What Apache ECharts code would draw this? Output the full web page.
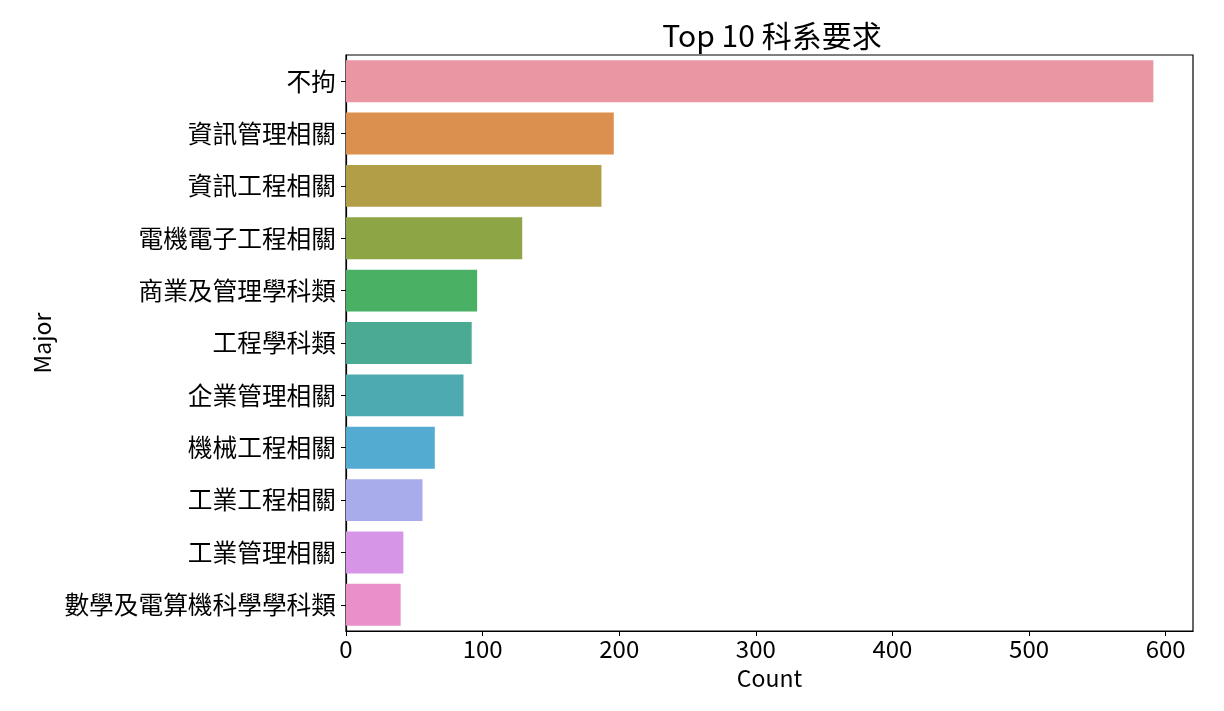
<!DOCTYPE html>
<html>
<head>
<meta charset="utf-8">
<script src="https://cdn.jsdelivr.net/npm/echarts@6/dist/echarts.min.js"></script>
<style>
html,body{margin:0;padding:0;background:#fff;}
#chart{width:1224px;height:711px;}
</style>
</head>
<body>
<div id="chart"></div>
<script>
const categories = ['不拘','資訊管理相關','資訊工程相關','電機電子工程相關','商業及管理學科類','工程學科類','企業管理相關','機械工程相關','工業工程相關','工業管理相關','數學及電算機科學學科類'];
const counts = [591, 196, 187, 129, 96, 92, 86, 65, 56, 42, 40];
const barColors = ['#EA96A3','#DC904F','#B39E48','#8EA546','#49B064','#4BAA92','#4DAAB0','#53ABD2','#A9ACEA','#D795E8','#E990C8'];
const xTicks = [0,100,200,300,400,500,600];

const FONT = '"Noto Sans CJK TC", "Noto Sans", sans-serif';
const chart = echarts.init(document.getElementById('chart'));
chart.setOption({
  animation: false,
  backgroundColor: '#fff',
  title: {
    text: 'Top 10 科系要求',
    left: 767, top: 16, textAlign: 'center',
    textStyle: {fontFamily: FONT, fontSize: 30, fontWeight: 'normal', color: '#000'}
  },
  grid: {left: 346, right: 31, top: 55, bottom: 80, show: true, borderColor: '#000', borderWidth: 1.2, backgroundColor: 'transparent'},
  xAxis: {
    type: 'value', min: 0, max: 620, interval: 100,
    name: 'Count', nameLocation: 'middle', nameGap: 36,
    nameTextStyle: {fontFamily: FONT, fontSize: 23, color: '#000'},
    axisLine: {show: true, lineStyle: {color: '#000', width: 1.2}},
    axisTick: {show: true, length: 5, lineStyle: {color: '#000'}, customValues: xTicks},
    axisLabel: {fontFamily: FONT, fontSize: 24, color: '#000', margin: 6, customValues: xTicks},
    splitLine: {show: false}
  },
  yAxis: {
    type: 'category', data: categories, inverse: true,
    name: 'Major', nameLocation: 'middle', nameGap: 292, nameRotate: 90,
    nameTextStyle: {fontFamily: FONT, fontSize: 23, color: '#000'},
    axisLine: {show: true, lineStyle: {color: '#000', width: 1.2}},
    axisTick: {show: true, length: 5, alignWithLabel: true, lineStyle: {color: '#000'}},
    axisLabel: {fontFamily: FONT, fontSize: 24.7, color: '#000', margin: 10}
  },
  series: [{
    type: 'bar',
    data: counts.map((v, i) => ({value: v, itemStyle: {color: barColors[i]}})),
    barCategoryGap: '20%'
  }]
});
</script>
</body>
</html>
